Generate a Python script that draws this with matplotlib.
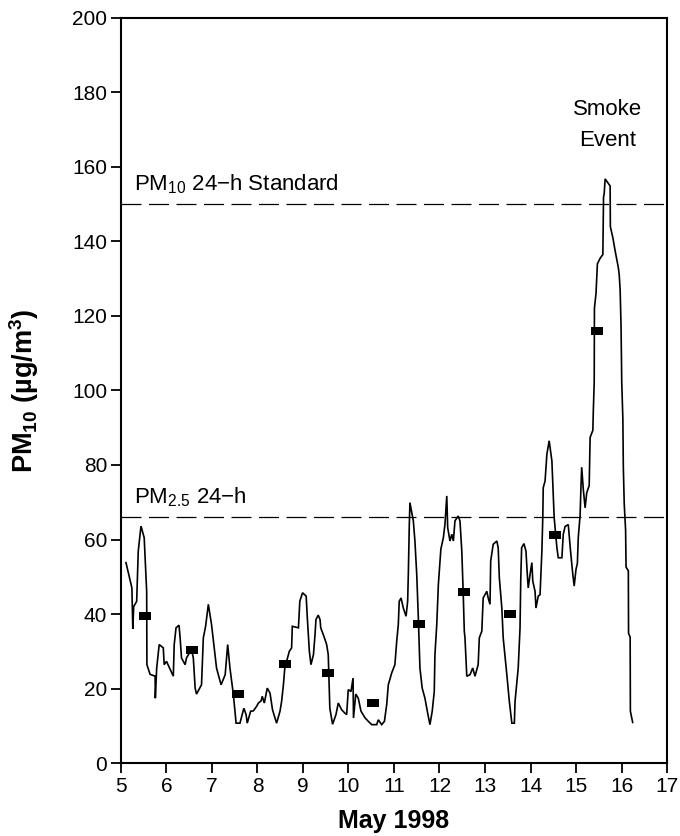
import matplotlib
matplotlib.use("Agg")
import matplotlib.pyplot as plt
from matplotlib.path import Path

plt.rcParams['font.family'] = ['Liberation Sans', 'DejaVu Sans']
plt.rcParams['mathtext.fontset'] = 'custom'
plt.rcParams['mathtext.rm'] = 'Liberation Sans'
plt.rcParams['mathtext.it'] = 'Liberation Sans:italic'
plt.rcParams['mathtext.bf'] = 'Liberation Sans:bold'

# Hourly PM10 record (day of May 1998, ug/m3)
hour_day = [
    5.11, 5.24, 5.26, 5.28, 5.345, 5.38, 5.44, 5.51, 5.565, 5.57, 5.64, 5.75, 5.755,
    5.785, 5.84, 5.93, 5.95, 6.0, 6.15, 6.17, 6.21, 6.275, 6.30, 6.33, 6.41, 6.44,
    6.55, 6.59, 6.63, 6.66, 6.77, 6.81, 6.86, 6.92, 6.99, 7.10, 7.20, 7.29, 7.345,
    7.395, 7.47, 7.53, 7.615, 7.70, 7.75, 7.775, 7.85, 7.91, 7.98, 8.02, 8.08, 8.105,
    8.15, 8.215, 8.275, 8.33, 8.42, 8.495, 8.53, 8.57, 8.60, 8.70, 8.75, 8.765, 8.90,
    8.93, 8.99, 9.07, 9.095, 9.14, 9.175, 9.23, 9.265, 9.285, 9.335, 9.375, 9.39,
    9.46, 9.52, 9.555, 9.59, 9.65, 9.725, 9.775, 9.85, 9.92, 9.96, 9.995, 10.055,
    10.10, 10.11, 10.16, 10.215, 10.275, 10.365, 10.435, 10.51, 10.62, 10.655, 10.73,
    10.79, 10.84, 10.875, 10.95, 11.02, 11.06, 11.095, 11.115, 11.155, 11.205, 11.265,
    11.30, 11.315, 11.335, 11.35, 11.425, 11.46, 11.50, 11.535, 11.57, 11.62, 11.68,
    11.74, 11.79, 11.84, 11.885, 11.90, 11.94, 11.975, 12.03, 12.085, 12.12, 12.16,
    12.18, 12.23, 12.27, 12.305, 12.34, 12.41, 12.45, 12.49, 12.52, 12.545, 12.56,
    12.60, 12.67, 12.73, 12.78, 12.85, 12.875, 12.93, 12.96, 13.04, 13.07, 13.11,
    13.125, 13.18, 13.26, 13.29, 13.315, 13.37, 13.40, 13.48, 13.535, 13.59, 13.645,
    13.66, 13.73, 13.77, 13.785, 13.805, 13.855, 13.90, 13.93, 13.95, 13.99, 14.03,
    14.05, 14.10, 14.12, 14.17, 14.21, 14.25, 14.27, 14.28, 14.32, 14.36, 14.41,
    14.47, 14.49, 14.52, 14.58, 14.61, 14.69, 14.72, 14.76, 14.83, 14.88, 14.93,
    14.96, 15.00, 15.03, 15.05, 15.09, 15.11, 15.125, 15.16, 15.20, 15.235, 15.29,
    15.31, 15.37, 15.38, 15.40, 15.405, 15.44, 15.47, 15.53, 15.59, 15.605, 15.62,
    15.64, 15.75, 15.755, 15.81, 15.86, 15.93, 15.95, 15.97, 15.99, 16.005, 16.03,
    16.04, 16.06, 16.09, 16.10, 16.15, 16.155, 16.19, 16.195, 16.245,
]
pm10 = [
    53.8, 47.0, 36.0, 42.0, 43.4, 56.9, 63.6, 60.5, 46.0, 26.4, 23.8, 23.3, 17.4,
    25.5, 31.8, 30.9, 26.4, 27.3, 23.3, 31.8, 36.3, 37.0, 33.6, 28.2, 26.4, 28.2,
    30.5, 28.2, 20.1, 18.5, 21.0, 33.6, 36.7, 42.6, 37.2, 25.5, 21.0, 23.7, 31.8,
    25.5, 18.4, 10.7, 10.7, 14.7, 13.0, 10.7, 13.9, 14.0, 15.2, 16.1, 16.7, 17.9,
    16.1, 20.1, 18.8, 14.3, 10.7, 13.9, 16.5, 21.0, 25.5, 30.0, 30.9, 36.7, 36.3,
    43.4, 45.7, 44.8, 39.0, 30.0, 26.4, 29.1, 34.5, 38.5, 39.7, 38.5, 36.3,
    34.0, 31.8, 29.1, 14.7, 10.4, 13.0, 16.1, 14.3, 13.4, 13.0, 19.7, 19.2,
    22.8, 12.1, 18.5, 17.4, 13.9, 12.1, 11.2, 10.3, 10.3, 11.6, 10.3,
    11.2, 15.7, 21.0, 24.2, 26.4, 32.7, 37.2, 43.4, 44.3, 41.6, 39.4,
    43.4, 50.6, 63.2, 69.9, 65.0, 59.6, 50.6, 39.0, 25.5, 20.1, 17.4,
    13.4, 10.3, 13.9, 19.2, 29.1, 37.2, 47.9, 57.4, 60.5, 64.1, 71.7,
    63.2, 59.6, 61.4, 59.6, 65.0, 66.3, 65.0, 56.9, 46.1, 35.4, 33.6,
    23.3, 23.7, 25.5, 23.3, 26.4, 33.6, 35.4, 44.3, 46.1, 44.3, 42.6,
    54.2, 58.7, 59.6, 57.8, 49.7, 41.6, 33.6, 23.7, 16.5, 10.7, 10.7,
    16.5, 25.5, 36.3, 48.8, 57.8, 58.9, 56.9, 50.6, 47.0, 50.6, 53.8,
    48.8, 46.1, 41.6, 44.8, 45.2, 56.9, 65.9, 73.9, 75.7, 82.9, 86.5,
    81.1, 74.8, 65.9, 57.8, 55.1, 55.1, 61.4, 63.5, 64.0, 56.9, 50.6,
    47.5, 52.0, 53.6, 60.6, 66.5, 74.5, 79.4, 73.5, 68.5, 72.5, 74.5,
    87.4, 89.3, 94.3, 102.3, 122.1, 126.1, 134.0, 135.5, 136.5, 151.9, 152.9,
    156.8, 154.9, 144.0, 141.0, 137.5, 133.0, 131.0, 127.0, 117.2, 102.3, 92.3,
    79.4, 69.5, 62.5, 52.6, 51.6, 34.8, 33.8, 13.9, 10.9,
]

# 24-h averages
mean_day = [5.52, 6.565, 7.57, 8.615, 9.555, 10.54, 11.55, 12.53, 13.55, 14.53, 15.47]
mean_pm10 = [39.4, 30.3, 18.4, 26.5, 24.2, 16.1, 37.2, 45.8, 40.0, 61.2, 115.9]

# Standards
pm10_standard = 150
pm25_standard = 66

x_ticks = list(range(5, 18))
y_ticks = list(range(0, 201, 20))

fig = plt.figure(figsize=(6.8, 8.36), dpi=100)
ax = fig.add_axes([0.1779, 0.0873, 0.8030, 0.8912])

ax.plot(hour_day, pm10, color='black', lw=1.2, solid_joinstyle='miter', zorder=3)

bar_marker = Path([(-1, -0.58), (1, -0.58), (1, 0.58), (-1, 0.58), (-1, -0.58)],
                  [Path.MOVETO, Path.LINETO, Path.LINETO, Path.LINETO, Path.CLOSEPOLY])
ax.plot(mean_day, mean_pm10, linestyle='none', marker=bar_marker, markersize=8.8,
        color='black', markeredgewidth=0, zorder=4)

for level in (pm10_standard, pm25_standard):
    ax.axhline(level, color='black', lw=0.9, dashes=(16, 6), zorder=2)

fs = 16
ax.text(5.29, 153.6, r'PM$_{\mathregular{10}}$ 24−h Standard', fontsize=fs,
        ha='left', va='baseline')
ax.text(5.29, 69.8, r'PM$_{\mathregular{2.5}}$ 24−h', fontsize=fs,
        ha='left', va='baseline')
ax.text(15.70, 171.3, 'Smoke\nEvent', fontsize=fs, ha='center', va='center',
        linespacing=1.6)

ax.set_xlim(5, 17)
ax.set_ylim(0, 200)
ax.set_xticks(x_ticks)
ax.set_yticks(y_ticks)

for s in ax.spines.values():
    s.set_linewidth(1.5)
ax.tick_params(direction='out', length=7, width=1.3, labelsize=15, pad=3)

ax.set_xlabel('May 1998', fontsize=18, fontweight='bold')
ax.set_ylabel(r'PM$_{\mathbf{10}}$ (µg/m$^{\mathbf{3}}$)', fontsize=19.5,
              fontweight='bold')
ax.xaxis.set_label_coords(0.5, -0.062)
ax.yaxis.set_label_coords(-0.146, 0.5)

fig.savefig('out.png', dpi=100)
